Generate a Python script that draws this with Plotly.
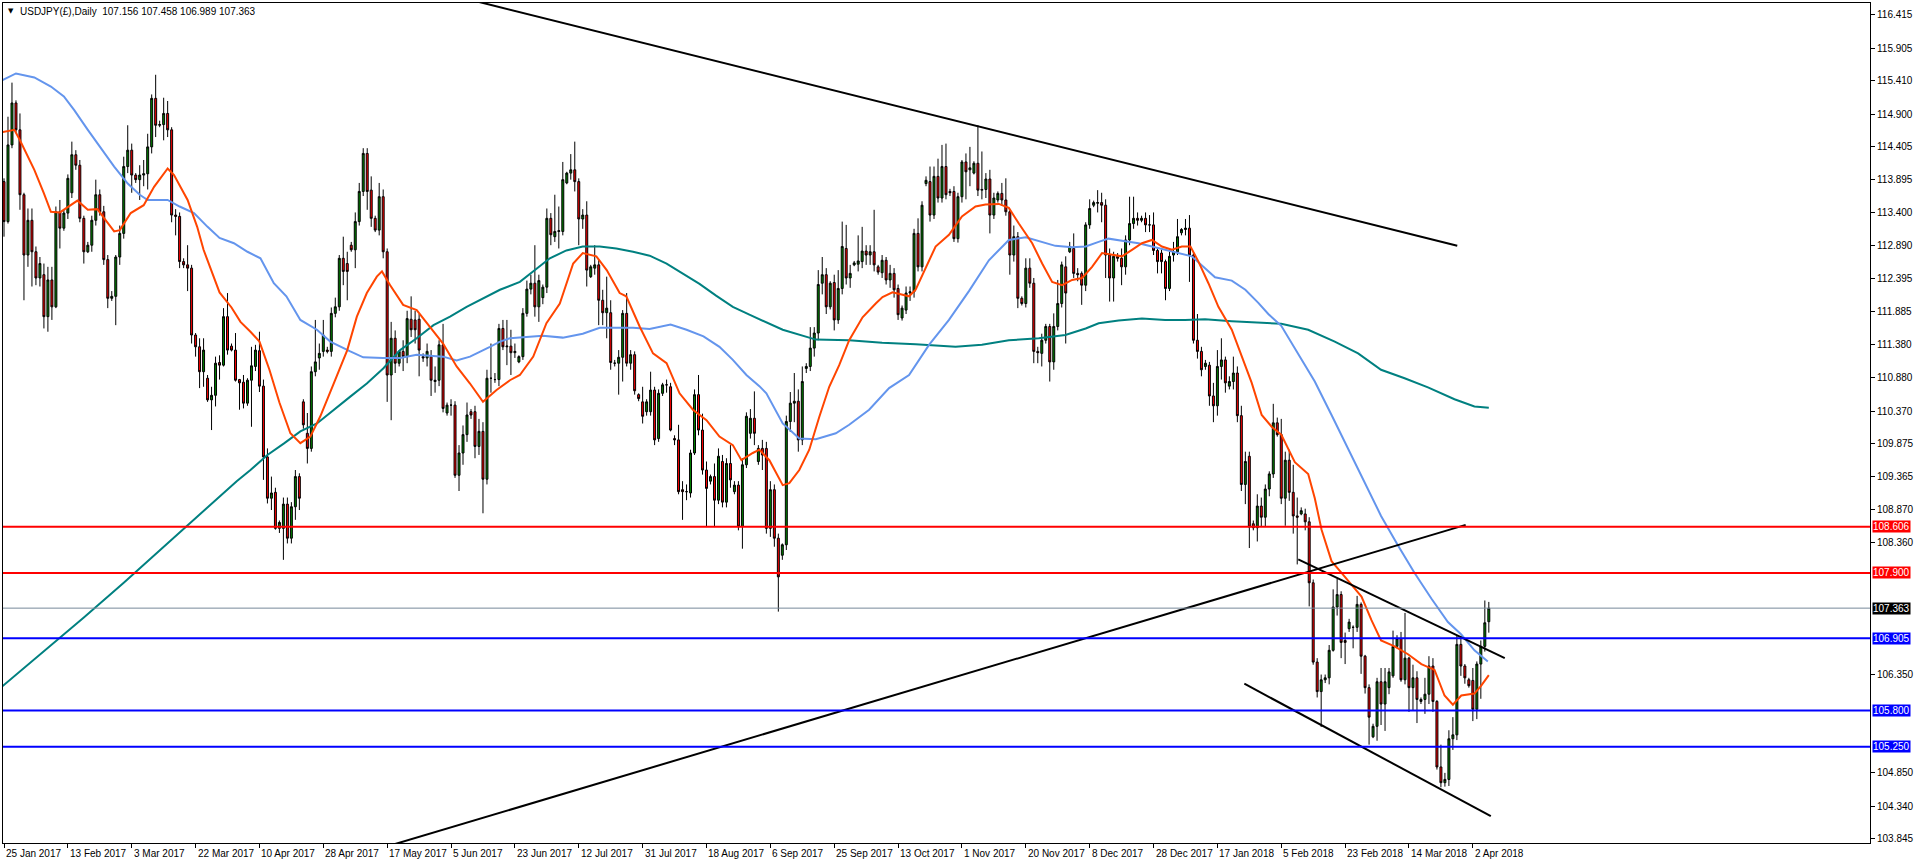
import plotly.graph_objects as go

# ---------------- candle data (bar index 0 = 25 Jan 2017) ----------------
open_ = [
 113.87,113.26,114.43,115.07,114.66,113.67,112.75,113.28,112.80,112.40,
 112.45,111.81,112.37,111.96,113.41,113.16,113.39,113.70,114.28,114.12,
 113.31,112.80,112.90,113.28,113.67,113.41,112.68,112.09,112.12,112.72,
 113.08,114.10,114.35,113.97,113.90,113.97,113.99,114.40,115.14,114.73,
 114.74,114.91,114.66,113.36,113.34,112.65,112.60,112.55,111.53,111.35,
 110.97,110.87,110.54,110.61,111.11,111.07,111.81,111.36,111.30,110.85,
 110.81,110.49,110.84,111.05,111.29,110.75,109.67,109.04,109.13,108.58,
 108.58,108.95,108.43,108.91,109.37,110.51,110.03,109.80,110.97,111.18,
 111.28,111.30,111.28,111.86,111.96,112.70,112.62,112.90,112.83,113.26,
 113.72,114.30,113.74,113.31,113.13,113.64,112.80,110.92,111.48,111.10,
 111.28,111.20,111.77,111.76,111.77,111.20,111.18,111.20,110.82,110.84,
 111.38,110.34,110.46,110.46,109.39,109.73,110.01,110.36,110.36,109.83,
 110.06,109.33,110.87,110.85,110.85,111.63,111.35,111.36,111.26,111.12,
 111.20,111.86,112.23,112.32,111.96,112.10,112.26,113.31,113.03,113.11,
 113.11,113.85,114.00,114.05,113.87,113.30,113.36,112.42,112.55,112.60,
 112.06,111.87,111.87,111.10,111.10,111.19,111.86,111.10,111.23,110.62,
 110.51,110.36,110.36,110.69,109.95,110.64,110.77,110.74,109.95,109.93,
 109.17,109.14,109.12,109.73,110.62,110.08,109.47,109.30,109.37,109.01,
 109.60,108.98,109.57,109.14,109.24,108.61,109.55,110.03,110.26,109.60,
 109.80,109.80,108.58,109.17,108.43,108.17,108.33,110.21,110.49,110.52,
 109.93,111.02,111.05,111.33,111.56,112.32,112.45,111.96,112.33,111.76,
 112.24,112.85,112.40,112.60,112.61,112.65,112.81,112.75,112.80,112.57,
 112.48,112.67,112.37,112.47,112.24,111.79,111.91,112.17,112.19,113.08,
 112.57,113.84,113.87,113.36,113.95,113.62,114.10,113.72,113.72,113.00,
 113.64,114.17,114.05,114.00,114.15,113.74,113.75,113.91,113.36,113.59,
 113.69,113.59,113.41,112.75,113.03,112.09,112.01,112.55,112.32,111.28,
 111.25,111.45,111.66,111.12,111.66,112.01,112.57,112.80,112.85,112.47,
 112.47,112.29,113.21,113.51,113.54,113.55,113.51,112.75,112.40,112.73,
 112.70,112.57,112.98,113.23,113.31,113.28,113.31,113.21,113.21,112.82,
 112.78,112.65,112.24,112.75,112.80,113.09,113.14,113.16,112.75,111.45,
 111.28,111.05,111.07,110.60,110.45,111.05,111.15,110.75,110.82,110.95,
 110.30,109.25,109.68,108.65,108.59,108.92,108.75,109.18,109.41,110.19,
 110.01,109.04,109.62,109.13,108.77,108.80,108.80,108.68,107.75,106.54,
 106.09,106.27,106.30,106.72,107.38,107.57,106.87,107.05,107.07,107.07,
 107.42,106.63,106.15,105.40,105.56,106.24,105.90,106.15,106.33,106.78,
 106.90,106.27,106.60,106.15,106.30,105.94,105.97,106.05,106.48,105.94,
 104.94,104.70,104.75,105.37,105.43,106.81,106.48,106.27,106.26,105.82,
 106.51,106.78,107.156]

high = [
 113.92,114.86,115.38,115.11,114.91,113.70,113.46,113.46,112.88,112.72,
 112.62,112.57,112.57,113.49,113.59,113.45,113.98,114.48,114.35,114.20,
 113.35,112.95,113.35,113.90,113.75,113.50,112.75,112.20,112.75,113.20,
 114.25,114.73,114.45,114.00,114.12,114.20,114.60,115.20,115.50,114.80,
 115.15,115.10,114.70,113.45,113.40,112.70,112.90,112.60,111.56,111.48,
 111.48,110.92,110.74,111.20,111.22,111.94,112.17,111.40,111.56,110.86,
 110.92,110.87,111.35,111.38,111.58,110.85,109.80,109.37,109.20,108.70,
 109.05,109.05,108.98,109.47,109.42,110.55,110.34,111.05,111.76,111.40,
 111.76,111.35,111.95,112.10,112.75,113.03,112.80,112.95,113.40,113.85,
 114.38,114.38,113.95,113.35,113.85,113.75,112.85,111.73,111.60,111.30,
 111.45,111.90,112.12,111.90,111.85,111.25,111.40,111.30,111.05,111.45,
 111.70,110.50,110.55,110.52,109.85,110.15,110.50,110.40,110.45,110.25,
 110.20,111.00,111.40,110.95,111.70,111.76,111.76,111.61,111.40,111.22,
 111.94,112.36,112.45,112.90,112.45,112.30,113.46,113.39,113.67,113.49,
 114.17,114.02,114.29,114.48,113.92,113.45,113.57,112.60,112.90,112.68,
 112.22,112.42,112.06,111.15,111.30,111.91,112.17,111.30,111.28,110.64,
 110.74,110.55,110.97,110.74,110.70,110.80,110.85,110.80,110.00,110.16,
 109.30,109.25,109.78,110.70,110.92,110.33,109.60,109.40,109.57,109.80,
 109.70,109.65,109.85,109.30,109.30,109.65,110.35,110.40,110.67,109.85,
 109.93,109.90,109.30,109.25,108.50,108.35,110.30,110.66,110.95,110.70,
 111.05,111.10,111.65,111.65,112.52,112.72,112.55,112.35,112.45,112.52,
 113.26,113.21,112.60,112.66,113.05,113.18,112.90,112.90,113.44,112.60,
 112.75,112.72,112.60,112.55,112.30,111.98,112.27,112.27,113.15,113.31,
 113.57,113.95,114.10,114.10,114.22,114.43,114.45,113.76,113.80,113.70,
 114.20,114.30,114.40,114.18,114.73,114.33,114.00,114.05,113.70,113.72,
 113.85,113.92,113.45,113.20,113.10,112.12,112.70,112.70,112.40,111.35,
 111.55,111.70,111.70,111.86,112.37,112.65,112.73,112.95,113.08,112.55,
 112.50,113.25,113.60,113.58,113.74,113.70,113.60,112.85,112.80,112.78,
 112.85,113.05,113.64,113.64,113.40,113.35,113.40,113.36,113.40,112.85,
 112.83,112.68,112.80,112.95,113.30,113.16,113.30,113.36,112.80,111.85,
 111.35,111.15,111.12,110.80,111.30,111.48,111.20,110.90,111.20,111.05,
 110.45,109.75,109.75,108.70,109.10,109.05,109.25,109.45,110.48,110.27,
 110.25,109.75,109.78,109.55,109.05,108.90,108.88,108.75,107.80,106.60,
 106.35,106.35,106.80,107.65,107.81,107.62,106.99,107.20,107.10,107.55,
 107.45,106.65,106.20,105.60,106.30,106.45,106.45,106.45,107.02,106.95,
 107.00,107.29,106.62,106.50,106.40,106.00,106.30,106.63,106.60,105.96,
 105.28,104.85,105.50,105.70,106.94,106.94,106.51,106.30,106.45,106.55,
 106.87,107.48,107.458]

low = [
 113.03,113.23,114.38,114.61,113.44,112.06,112.57,112.27,112.29,112.27,
 111.63,111.58,111.76,111.94,112.85,113.12,113.30,113.62,114.05,113.25,
 112.62,112.78,112.80,113.20,113.35,112.60,111.94,112.05,111.68,112.60,
 113.00,114.00,113.70,113.85,113.59,113.80,113.75,114.30,114.55,114.70,
 114.50,114.55,113.25,113.05,112.55,112.55,112.20,111.40,111.20,110.72,
 110.74,110.51,110.08,110.44,110.85,111.05,111.23,111.28,110.82,110.39,
 110.41,110.45,110.13,110.98,110.66,109.32,108.96,108.86,108.56,108.51,
 108.10,108.35,108.35,108.71,108.86,110.10,109.57,109.75,110.90,111.00,
 111.20,111.25,111.20,111.80,111.90,112.29,112.06,112.80,112.55,113.20,
 113.65,113.44,113.18,113.10,113.05,112.70,110.51,110.23,110.95,111.05,
 110.98,111.10,111.50,111.40,110.90,111.12,111.05,110.60,110.65,110.75,
 110.35,110.30,110.30,109.35,109.15,109.55,109.90,110.25,109.65,109.70,
 108.81,109.25,110.65,110.80,110.75,111.30,111.07,110.92,111.18,111.10,
 111.15,111.81,112.15,111.81,111.73,112.00,112.17,112.90,112.95,112.85,
 113.05,113.83,113.90,113.72,112.90,113.15,112.27,112.40,112.45,111.68,
 111.68,111.48,111.00,111.05,110.62,110.82,111.05,111.00,110.62,110.52,
 110.18,110.30,110.30,109.85,109.90,110.60,110.65,110.06,109.85,109.10,
 108.71,109.01,109.05,109.70,110.00,109.40,108.60,109.25,108.60,108.95,
 108.90,108.90,109.20,109.10,108.55,108.27,109.50,109.95,109.85,109.55,
 109.47,108.50,108.45,108.30,107.31,108.10,108.25,110.05,110.20,109.75,
 109.85,110.95,110.98,111.20,111.45,112.15,111.85,111.92,111.60,111.70,
 112.15,112.30,112.25,112.58,112.50,112.55,112.60,112.60,112.50,112.45,
 112.40,112.30,112.25,112.10,111.76,111.75,111.85,112.05,112.10,112.50,
 112.50,113.80,113.26,113.30,113.55,113.55,113.60,113.65,112.95,112.94,
 113.55,113.60,113.80,113.98,113.65,113.60,113.62,113.08,113.30,113.55,
 113.50,113.35,112.45,112.65,111.94,111.98,111.95,112.25,111.10,111.10,
 111.05,111.40,110.82,111.00,111.60,111.95,111.40,112.78,112.40,112.35,
 111.99,112.20,113.15,113.48,113.40,113.25,112.40,112.04,112.04,112.65,
 112.29,112.45,112.90,113.15,113.20,113.25,113.10,113.10,112.75,112.47,
 112.47,112.06,112.20,112.65,112.75,113.05,113.05,112.34,111.40,111.17,
 110.90,111.00,110.45,110.20,110.30,110.85,110.65,110.70,110.70,110.20,
 109.15,108.95,108.28,108.55,108.38,108.60,108.60,109.07,109.35,109.98,
 108.95,108.62,109.00,108.50,108.03,108.78,108.55,107.39,106.50,106.00,
 105.55,106.22,106.20,106.70,107.25,106.60,106.51,107.00,106.75,107.00,
 106.36,106.06,105.28,105.38,105.34,105.58,105.49,106.05,106.30,106.75,
 106.24,106.20,105.78,105.80,105.61,105.90,105.75,105.90,105.78,104.90,
 104.63,104.64,104.65,105.20,105.35,106.33,106.21,106.15,105.64,105.67,
 105.98,106.70,106.989]

close = [
 113.26,114.43,115.07,114.66,113.67,112.75,113.28,112.80,112.40,112.62,
 111.81,112.37,111.96,113.41,113.16,113.39,113.92,114.28,114.12,113.31,
 112.80,112.90,113.28,113.67,113.41,112.68,112.09,112.12,112.72,113.08,
 114.10,114.35,113.97,113.90,113.97,113.99,114.40,115.14,114.73,114.74,
 114.91,114.66,113.36,113.34,112.65,112.60,112.55,111.53,111.35,110.97,
 111.30,110.54,110.61,111.10,111.07,111.81,111.30,111.30,110.84,110.80,
 110.49,110.84,111.06,111.30,110.75,109.67,109.04,109.12,108.58,108.67,
 108.95,108.43,108.91,109.37,109.04,110.16,109.80,110.97,111.12,111.25,
 111.53,111.28,111.86,111.96,112.70,112.50,112.50,112.83,113.26,113.72,
 114.30,113.72,113.31,113.13,113.64,112.80,110.92,111.48,111.10,111.28,
 111.20,111.78,111.61,111.61,111.30,111.18,111.28,110.84,110.84,111.38,
 110.41,110.46,110.46,109.39,109.73,110.01,110.31,110.31,109.83,110.06,
 109.33,110.87,110.87,110.85,111.63,111.35,111.36,111.26,111.28,111.20,
 111.86,112.23,112.32,111.96,112.36,112.26,113.31,113.06,113.11,113.12,
 113.90,114.00,114.05,113.87,113.30,113.36,112.52,112.57,112.60,112.06,
 111.87,111.94,111.11,111.10,111.19,111.86,111.10,111.23,110.68,110.56,
 110.29,110.51,110.69,109.93,110.64,110.77,110.77,110.08,109.93,109.14,
 109.14,109.14,109.73,110.62,110.08,109.47,109.19,109.37,109.01,109.68,
 108.98,109.57,109.32,109.24,108.61,109.55,110.29,110.26,110.03,109.80,
 109.70,108.58,109.17,108.43,107.84,108.33,110.21,110.49,110.52,109.93,
 110.82,111.05,111.33,111.56,112.30,112.45,111.96,112.32,111.76,112.24,
 112.88,112.40,112.47,112.63,112.66,112.81,112.75,112.80,112.60,112.49,
 112.67,112.37,112.47,112.22,111.84,111.94,112.17,112.19,113.08,112.57,
 113.51,113.89,113.36,113.95,113.62,114.10,113.67,113.70,113.00,113.64,
 114.17,114.02,114.08,114.15,113.74,113.75,113.91,113.36,113.62,113.69,
 113.59,113.41,112.75,113.03,112.09,112.01,112.55,112.32,111.28,111.26,
 111.45,111.66,111.12,111.66,112.01,112.60,112.17,112.88,112.47,112.45,
 112.29,113.21,113.46,113.55,113.55,113.51,112.75,112.40,112.73,112.70,
 112.57,112.98,113.23,113.31,113.28,113.31,113.21,113.21,112.82,112.65,
 112.65,112.24,112.73,112.80,113.03,113.14,113.16,112.75,111.45,111.28,
 111.00,111.10,110.60,110.45,111.05,111.15,110.80,110.82,110.95,110.30,
 109.25,109.60,108.60,108.59,108.92,108.75,109.18,109.41,110.19,110.01,
 109.04,109.62,109.13,108.77,108.75,108.85,108.68,107.75,106.54,106.09,
 106.27,106.30,106.72,107.38,107.57,106.84,106.84,107.15,107.07,107.42,
 106.63,106.15,105.70,105.56,106.24,105.90,106.24,106.39,106.78,106.90,
 106.27,106.60,106.15,106.30,105.97,105.97,106.05,106.48,105.94,104.94,
 104.70,104.75,105.37,105.43,106.81,106.48,106.30,106.18,105.82,106.51,
 106.78,107.14,107.363]

bar_index = list(range(len(close)))

# ---------------- moving averages (bar index, price) ----------------
ma_fast_x = [-1, 2.6, 4, 7.6, 10, 11.75, 14, 16.3, 18.4, 21, 23.4, 25.5, 27.6, 29, 31.75, 35, 37.6, 41,
             42.6, 46, 48.4, 50, 51, 54, 57, 59.25, 61.75, 64, 66.5, 69, 71.75, 74.25, 76.75, 79.25,
             82.6, 86, 88.4, 90.9, 93.4, 94.7, 96.75, 100, 103.4, 106.75, 110, 113.4, 116.75, 120,
             123.4, 126.75, 129.25, 132.6, 135.9, 139.25, 142.6, 145, 148.4, 151, 154.25, 155.9,
             159.25, 162.6, 166, 169.25, 172.6, 176, 179.25, 182.6, 184.75, 187.6, 189.25, 191.75,
             195.1, 196.75, 199.25, 201.75, 204.25, 206.75, 209.25, 211.75, 215.1, 218.4, 220.1,
             222.6, 226.75, 228.4, 230.9, 233.4, 236.75, 240, 243.4, 245.9, 249.25, 251.75, 254.25,
             257.6, 260.1, 262.6, 265.1, 267.6, 270.1, 272.6, 275.1, 277.6, 280.1, 282.6, 285.1,
             287.6, 290.1, 292.6, 295.1, 297.25, 299.25, 301.75, 304.25, 307.6, 311, 312.6, 315.1,
             317.6, 320, 323.4, 326.75, 328.4, 330.1, 332.6, 335.1, 337.6, 340.1, 342.6, 345, 348.4,
             351.75, 355.1, 358.4, 360.9, 363, 365.1, 368.4, 370.1, 372]
ma_fast_y = [114.62, 114.66, 114.50, 114.05, 113.69, 113.41, 113.40, 113.49, 113.58, 113.44, 113.45,
             113.28, 113.11, 113.13, 113.39, 113.51, 113.79, 114.07, 113.97, 113.59, 113.18, 112.83,
             112.67, 112.18, 111.95, 111.73, 111.58, 111.43, 111.00, 110.50, 110.03, 109.88, 109.98,
             110.29, 110.79, 111.30, 111.81, 112.17, 112.42, 112.50, 112.29, 111.99, 111.91, 111.66,
             111.40, 111.05, 110.79, 110.51, 110.69, 110.84, 110.92, 111.20, 111.71, 112.01, 112.62,
             112.78, 112.73, 112.52, 112.17, 112.12, 111.66, 111.25, 111.10, 110.64, 110.39, 110.23,
             109.98, 109.85, 109.62, 109.73, 109.78, 109.62, 109.24, 109.27, 109.47, 109.78, 110.28,
             110.74, 111.07, 111.45, 111.80, 112.01, 112.11, 112.18, 112.12, 112.22, 112.55, 112.88,
             113.06, 113.34, 113.49, 113.52, 113.53, 113.47, 113.23, 112.93, 112.62, 112.34, 112.29,
             112.37, 112.40, 112.57, 112.78, 112.75, 112.73, 112.83, 112.93, 112.98, 112.88, 112.83,
             112.88, 112.88, 112.65, 112.32, 111.96, 111.61, 111.05, 110.80, 110.31, 110.13, 110.01,
             109.59, 109.41, 109.04, 108.56, 108.08, 107.90, 107.72, 107.54, 107.18, 106.87, 106.78,
             106.66, 106.51, 106.42, 106.03, 105.89, 106.03, 106.06, 106.18, 106.34]

ma_mid_x = [-1, 3, 7.6, 11.75, 15, 17.6, 21, 24, 27.6, 31, 34, 36, 41, 44, 47.6, 51, 54, 57.6, 61,
            64.25, 67.6, 70.75, 74.25, 78.4, 81.75, 86.75, 90, 95, 99.25, 103.4, 110, 113.4, 116.75,
            121.75, 124.25, 126.75, 135, 140, 145, 149.25, 157.6, 161.75, 167, 171, 175.25, 179.25,
            182.6, 186, 189.25, 191, 195.1, 199.25, 203.4, 208.4, 211.75, 216.75, 221.75, 226.75,
            231.75, 236.75, 241.75, 246.75, 251.75, 256, 260.1, 263.4, 267.6, 271, 274.25, 276.75,
            280.9, 284.25, 287.6, 290.9, 294.25, 297.6, 300.9, 303.4, 307.6, 311, 314.25, 316.75,
            320, 324.25, 328.4, 332.6, 336.75, 340.9, 345, 349.25, 353.4, 357.6, 361.75, 365.1,
            368.4, 371.75]
ma_mid_y = [115.40, 115.52, 115.46, 115.32, 115.17, 114.96, 114.66, 114.40, 114.10, 113.84, 113.67,
            113.59, 113.59, 113.49, 113.39, 113.18, 113.01, 112.93, 112.80, 112.70, 112.32, 112.12,
            111.76, 111.61, 111.43, 111.28, 111.19, 111.18, 111.18, 111.23, 111.20, 111.14, 111.20,
            111.35, 111.43, 111.48, 111.52, 111.49, 111.55, 111.64, 111.64, 111.62, 111.69, 111.61,
            111.51, 111.35, 111.15, 110.92, 110.75, 110.64, 110.18, 109.95, 109.94, 110.03, 110.16,
            110.39, 110.72, 110.92, 111.38, 111.76, 112.20, 112.67, 112.98, 113.02, 112.95, 112.89,
            112.87, 112.88, 112.95, 113.00, 112.96, 112.93, 112.88, 112.83, 112.79, 112.73, 112.55,
            112.41, 112.36, 112.22, 112.02, 111.85, 111.67, 111.25, 110.82, 110.31, 109.80, 109.29,
            108.77, 108.32, 107.90, 107.51, 107.15, 106.96, 106.72, 106.55]

ma_slow_x = [-1, 10, 20, 30, 40, 50, 58.3, 61.75, 66, 70.25, 74.25, 78.4, 82.6, 86.75, 90.9, 95,
             99.25, 103.4, 107.6, 111.75, 115.9, 120, 124.25, 129.25, 132.6, 136.75, 140.9, 145,
             149.25, 153.4, 157.6, 161.75, 166, 170, 174.25, 178.4, 182.6, 186.75, 195.1, 203.4,
             211.75, 220, 228.4, 238.4, 245, 251.75, 259.25, 265.9, 271, 274.25, 279.25, 285.1,
             290.9, 295.9, 300.9, 307.6, 311.75, 320, 326.75, 333.4, 339.25, 345, 350.9, 356.75,
             363.4, 368.4, 372]
ma_slow_y = [106.14, 106.70, 107.22, 107.75, 108.30, 108.85, 109.30, 109.47, 109.70, 109.88, 110.06,
             110.18, 110.39, 110.59, 110.79, 111.02, 111.30, 111.48, 111.68, 111.81, 111.96, 112.09,
             112.22, 112.34, 112.50, 112.70, 112.82, 112.88, 112.88, 112.85, 112.80, 112.74, 112.62,
             112.47, 112.31, 112.13, 111.96, 111.84, 111.61, 111.46, 111.45, 111.41, 111.39, 111.35,
             111.38, 111.45, 111.48, 111.53, 111.63, 111.71, 111.75, 111.78, 111.76, 111.76, 111.77,
             111.74, 111.73, 111.70, 111.61, 111.43, 111.25, 111.00, 110.87, 110.73, 110.55, 110.44,
             110.42]

# ---------------- drawn objects ----------------
level_values = [108.606, 107.900, 106.905, 105.800, 105.250]
level_colors = ["#ff0000", "#ff0000", "#0000ff", "#0000ff", "#0000ff"]
last_price = 107.363

trend_lines = [  # (x0, y0, x1, y1) in bar index / price
    (118, 116.626, 364.1, 112.893),
    (97, 103.747, 366.2, 108.633),
    (324.25, 108.108, 376, 106.600),
    (310.75, 106.210, 372.5, 104.190),
]

date_ticks = list(range(0, 369, 16))
date_labels = ["25 Jan 2017", "13 Feb 2017", "3 Mar 2017", "22 Mar 2017", "10 Apr 2017",
               "28 Apr 2017", "17 May 2017", "5 Jun 2017", "23 Jun 2017", "12 Jul 2017",
               "31 Jul 2017", "18 Aug 2017", "6 Sep 2017", "25 Sep 2017", "13 Oct 2017",
               "1 Nov 2017", "20 Nov 2017", "8 Dec 2017", "28 Dec 2017", "17 Jan 2018",
               "5 Feb 2018", "23 Feb 2018", "14 Mar 2018", "2 Apr 2018"]

# scale labels that are not covered by the coloured price tags
price_ticks = [116.415, 115.905, 115.410, 114.900, 114.405, 113.895, 113.400, 112.890, 112.395,
               111.885, 111.380, 110.880, 110.370, 109.875, 109.365, 108.870, 108.360,
               106.350, 104.850, 104.340, 103.845]

FONT = "Liberation Sans, Arial, sans-serif"

fig = go.Figure()

fig.add_trace(go.Candlestick(
    x=bar_index, open=open_, high=high, low=low, close=close,
    increasing=dict(fillcolor="#008000", line=dict(color="#000000", width=1)),
    decreasing=dict(fillcolor="#ff0000", line=dict(color="#000000", width=1)),
    whiskerwidth=0, showlegend=False, hoverinfo="skip"))

for xs, ys, col in [(ma_slow_x, ma_slow_y, "#008080"),
                    (ma_mid_x, ma_mid_y, "#6495ed"),
                    (ma_fast_x, ma_fast_y, "#ff4500")]:
    fig.add_trace(go.Scatter(x=xs, y=ys, mode="lines", line=dict(color=col, width=2),
                             showlegend=False, hoverinfo="skip"))

for x0, y0, x1, y1 in trend_lines:
    fig.add_trace(go.Scatter(x=[x0, x1], y=[y0, y1], mode="lines",
                             line=dict(color="#000000", width=2),
                             showlegend=False, hoverinfo="skip"))

shapes = []
for v, c in zip(level_values, level_colors):
    shapes.append(dict(type="line", xref="paper", x0=0, x1=1, yref="y", y0=v, y1=v,
                       line=dict(color=c, width=2), layer="above"))
shapes.append(dict(type="line", xref="paper", x0=0, x1=1, yref="y", y0=last_price, y1=last_price,
                   line=dict(color="#778899", width=1), layer="above"))

annotations = []
for v, c in list(zip(level_values, level_colors)) + [(last_price, "#000000")]:
    annotations.append(dict(xref="paper", x=1, xanchor="left", xshift=2, yref="y", y=v,
                            yanchor="middle", text=f"{v:.3f}", showarrow=False,
                            font=dict(family=FONT, size=10, color="#ffffff"),
                            bgcolor=c, borderpad=0))
for t, lab in zip(date_ticks, date_labels):
    annotations.append(dict(xref="x", x=t, xanchor="left", xshift=0, yref="paper", y=0,
                            yanchor="top", yshift=-3, text=lab, showarrow=False,
                            font=dict(family=FONT, size=10, color="#000000")))
annotations.append(dict(xref="paper", x=0, xanchor="left", xshift=3, yref="paper", y=1,
                        yanchor="middle", yshift=-8, text="▼", showarrow=False,
                        font=dict(family="DejaVu Sans", size=7, color="#000000")))
annotations.append(dict(xref="paper", x=0, xanchor="left", xshift=15, yref="paper", y=1,
                        yanchor="middle", yshift=-8,
                        text="USDJPY(£),Daily  107.156 107.458 106.989 107.363",
                        showarrow=False, font=dict(family=FONT, size=10, color="#000000")))

fig.update_layout(
    width=1916, height=864,
    margin=dict(l=2, r=43, t=3, b=21, pad=0),
    paper_bgcolor="#ffffff", plot_bgcolor="#ffffff",
    shapes=shapes, annotations=annotations,
    xaxis=dict(range=[-0.25, 467.5], showgrid=False, zeroline=False, rangeslider=dict(visible=False),
               showline=True, linecolor="#000000", linewidth=1, mirror=True,
               tickvals=date_ticks, ticks="outside", ticklen=4, tickcolor="#000000",
               showticklabels=False),
    yaxis=dict(range=[103.78, 116.595], side="right", showgrid=False, zeroline=False,
               showline=True, linecolor="#000000", linewidth=1, mirror=True,
               tickvals=price_ticks, ticktext=[f"{v:.3f}" for v in price_ticks],
               ticks="outside", ticklen=4, tickcolor="#000000",
               tickfont=dict(family=FONT, size=10, color="#000000")),
)

fig.write_html("out.html", config={"displayModeBar": False},
               post_script="document.body.style.margin='0';document.body.style.overflow='hidden';")
